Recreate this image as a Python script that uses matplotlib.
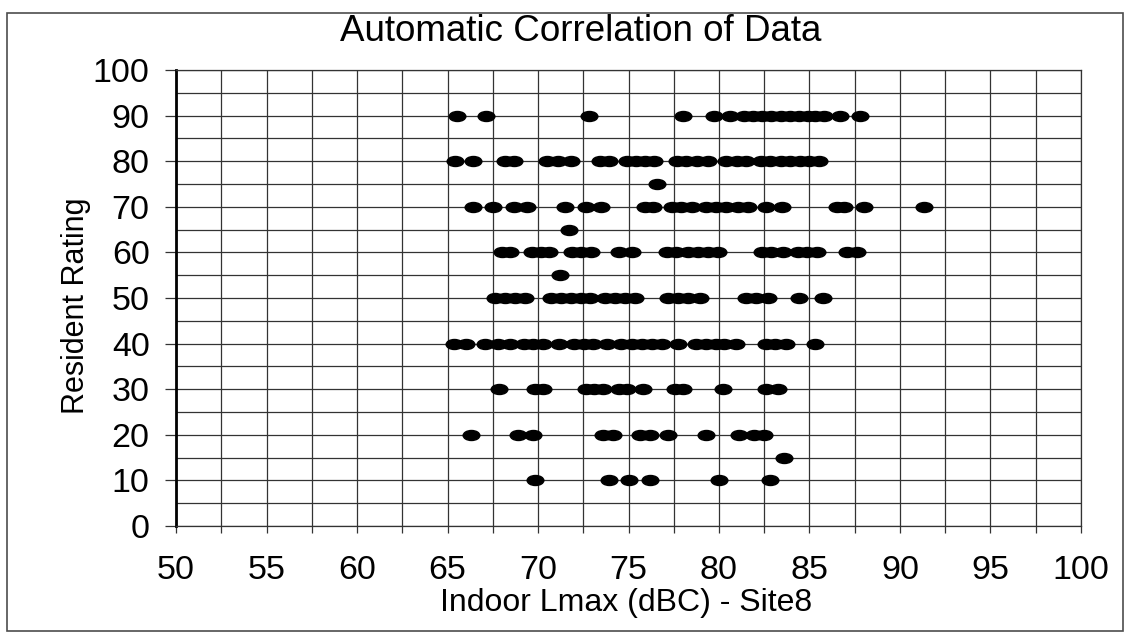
import matplotlib
matplotlib.use("Agg")
import matplotlib.pyplot as plt
import numpy as np
from matplotlib.path import Path
from matplotlib.transforms import Affine2D
from matplotlib.patches import Rectangle

plt.rcParams['font.family'] = ['Liberation Sans', 'DejaVu Sans']

# readings per resident rating row (Indoor Lmax, dBC)
r90 = [65.5, 67.1, 72.8, 78.0, 79.7, 80.6, 81.4, 81.9, 82.4, 82.9, 83.4, 83.9, 84.4, 84.9, 85.3, 85.8, 86.7, 87.8]
r80 = [65.4, 66.4, 68.2, 68.7, 70.5, 71.1, 71.8, 73.4, 73.9, 74.9, 75.4, 75.9, 76.4, 77.7, 78.2, 78.8, 79.4,
       80.4, 81.0, 81.5, 82.3, 82.8, 83.4, 83.9, 84.5, 85.0, 85.5]
r75 = [76.6]
r70 = [66.4, 67.5, 68.65, 69.4, 71.5, 72.65, 73.5, 75.9, 76.35, 77.4, 77.9, 78.5, 79.3, 79.85, 80.4, 81.05,
       81.6, 82.6, 83.5, 86.5, 86.9, 88.0, 91.3]
r65 = [71.7]
r60 = [68.0, 68.45, 69.65, 70.15, 70.6, 71.9, 72.4, 72.9, 74.5, 75.2, 77.1, 77.65, 78.3, 78.85, 79.4, 79.95,
       82.35, 82.9, 83.55, 84.35, 84.85, 85.4, 87.1, 87.6]
r55 = [71.2]
r50 = [67.6, 68.2, 68.75, 69.3, 70.7, 71.25, 71.8, 72.4, 72.85, 73.7, 74.25, 74.8, 75.35, 77.2, 77.75, 78.3,
       78.95, 81.5, 82.05, 82.7, 84.4, 85.75]
r40 = [65.35, 66.0, 67.05, 67.8, 68.45, 69.2, 69.75, 70.3, 71.15, 72.0, 72.55, 73.05, 73.8, 74.6, 75.2, 75.75,
       76.3, 76.85, 77.75, 78.75, 79.3, 79.85, 80.3, 80.95, 82.6, 83.1, 83.7, 85.3]
r30 = [67.85, 69.85, 70.3, 72.65, 73.1, 73.6, 74.45, 74.9, 75.8, 77.55, 78.0, 80.2, 82.6, 83.25]
r20 = [66.3, 68.9, 69.7, 73.6, 74.15, 75.65, 76.2, 77.2, 79.3, 81.1, 81.95, 82.5]
r15 = [83.6]
r10 = [69.85, 73.9, 75.0, 76.2, 80.0, 82.8]

rows = {90: r90, 80: r80, 75: r75, 70: r70, 65: r65, 60: r60, 55: r55,
        50: r50, 40: r40, 30: r30, 20: r20, 15: r15, 10: r10}

title = "Automatic Correlation of Data"
xlab = "Indoor Lmax (dBC) - Site8"
ylab = "Resident Rating"

# flat ellipse marker
oval = Path.unit_circle().transformed(Affine2D().scale(1.0, 0.6))

fig = plt.figure(figsize=(11.3, 6.36), dpi=100)
ax = fig.add_axes([0.1558, 0.173, 0.8008, 0.7169])

for rating, xs in rows.items():
    ax.plot(xs, [rating] * len(xs), linestyle="none", marker=oval,
            markersize=12, color="black", zorder=3)

ax.set_xlim(50, 100)
ax.set_ylim(0, 100)
ax.set_xticks(np.arange(50, 101, 5))
ax.set_xticks(np.arange(50, 101, 2.5), minor=True)
ax.set_yticks(np.arange(0, 101, 10))
ax.set_yticks(np.arange(0, 101, 5), minor=True)
ax.grid(True, which="both", color="0.2", linewidth=0.9)
ax.set_axisbelow(True)

ax.tick_params(axis="x", which="both", direction="out", length=5, width=0.9, color="0.2",
               labelsize=24.5, pad=16)
ax.tick_params(axis="y", which="major", direction="out", length=8, width=0.9, color="0.2",
               labelsize=24.5, pad=11)
ax.tick_params(axis="y", which="minor", length=0)

for s in ["top", "right", "bottom"]:
    ax.spines[s].set_color("0.2")
    ax.spines[s].set_linewidth(0.9)
ax.spines["left"].set_linewidth(2.0)
ax.spines["left"].set_color("black")

fig.text(0.514, 0.951, title, ha="center", va="center", fontsize=26.5)
fig.text(0.554, 0.052, xlab, ha="center", va="center", fontsize=23)
fig.text(0.067, 0.52, ylab, ha="center", va="center", rotation=90, fontsize=22)

# outer frame of the scanned chart
fig.patches.append(Rectangle((0.006, 0.008), 0.988, 0.972, transform=fig.transFigure,
                             fill=False, edgecolor="0.3", linewidth=1.2))

fig.savefig("out.png", dpi=100)
